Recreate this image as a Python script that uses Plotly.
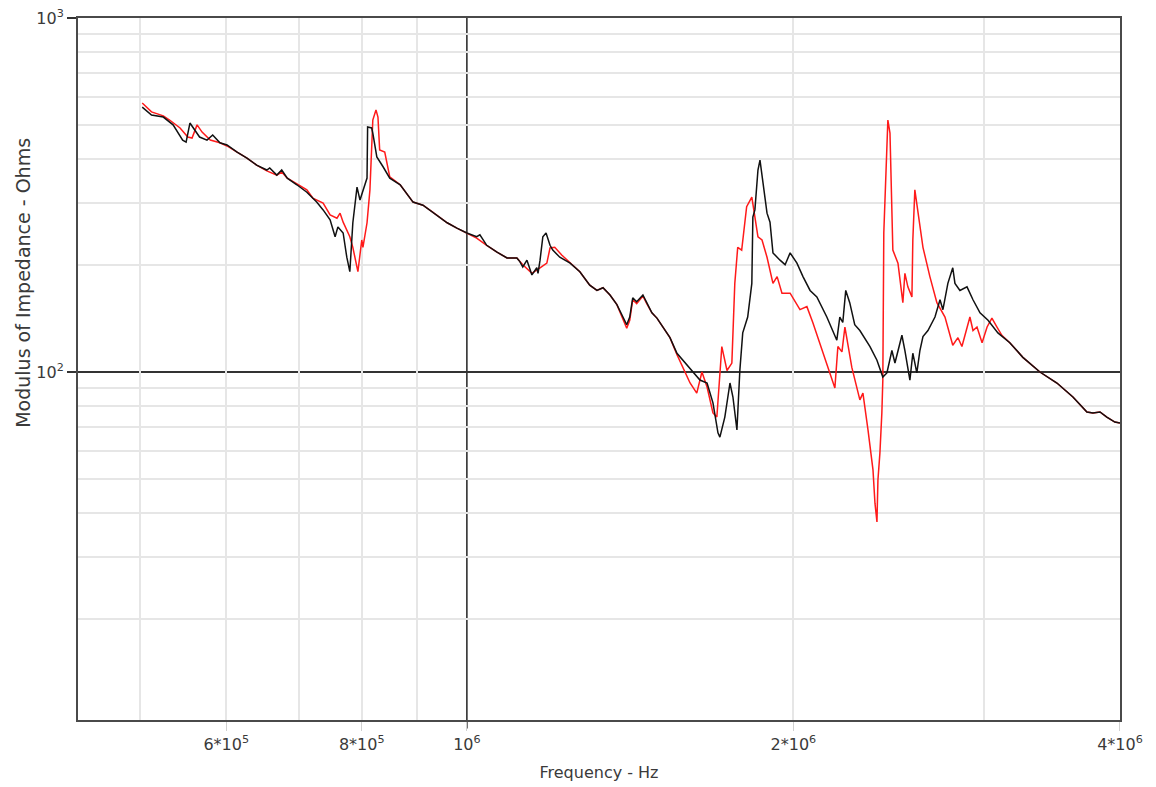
import plotly.graph_objects as go

# ---- Data ----
freq_black = [5.02e5, 5.12e5, 5.25e5, 5.36e5, 5.47e5, 5.51e5, 5.555e5, 5.59e5, 5.67e5, 5.76e5,
              5.83e5, 5.92e5, 6.01e5, 6.14e5, 6.27e5, 6.40e5, 6.54e5, 6.58e5, 6.68e5, 6.75e5,
              6.83e5, 6.97e5, 7.12e5, 7.27e5, 7.37e5, 7.48e5, 7.56e5, 7.605e5, 7.69e5, 7.75e5,
              7.80e5, 7.85e5, 7.92e5, 7.97e5, 8.02e5, 8.09e5, 8.10e5, 8.17e5, 8.19e5, 8.26e5,
              8.37e5, 8.49e5, 8.68e5, 8.92e5, 9.11e5, 9.30e5, 9.59e5, 9.79e5, 1.00e6, 1.021e6,
              1.028e6, 1.043e6, 1.066e6, 1.089e6, 1.112e6, 1.119e6, 1.126e6, 1.136e6, 1.148e6, 1.160e6,
              1.163e6, 1.168e6, 1.175e6, 1.183e6, 1.193e6, 1.200e6, 1.218e6, 1.245e6, 1.271e6, 1.298e6,
              1.318e6, 1.335e6, 1.355e6, 1.375e6, 1.392e6, 1.404e6, 1.413e6, 1.422e6, 1.434e6, 1.453e6,
              1.465e6, 1.481e6, 1.497e6, 1.516e6, 1.539e6, 1.562e6, 1.582e6, 1.595e6, 1.616e6, 1.640e6,
              1.665e6, 1.686e6, 1.704e6, 1.711e6, 1.729e6, 1.748e6, 1.759e6, 1.774e6, 1.785e6, 1.796e6,
              1.815e6, 1.831e6, 1.835e6, 1.843e6, 1.855e6, 1.863e6, 1.875e6, 1.891e6, 1.903e6, 1.915e6,
              1.944e6, 1.965e6, 1.986e6, 2.015e6, 2.041e6, 2.072e6, 2.102e6, 2.147e6, 2.193e6, 2.207e6,
              2.221e6, 2.235e6, 2.254e6, 2.278e6, 2.303e6, 2.353e6, 2.388e6, 2.418e6, 2.439e6, 2.465e6,
              2.481e6, 2.518e6, 2.534e6, 2.561e6, 2.577e6, 2.599e6, 2.616e6, 2.633e6, 2.661e6, 2.701e6,
              2.730e6, 2.747e6, 2.776e6, 2.805e6, 2.818e6, 2.848e6, 2.891e6, 2.928e6, 2.972e6, 3.023e6,
              3.087e6, 3.166e6, 3.255e6, 3.375e6, 3.499e6, 3.620e6, 3.729e6, 3.777e6, 3.834e6, 3.890e6,
              3.957e6, 4.000e6]
z_black = [560, 532, 525, 499, 452, 446, 505, 492, 461, 452,
           467, 444, 438, 418, 402, 384, 372, 377, 360, 372,
           353, 338, 322, 302, 287, 269, 241, 257, 247, 211,
           192, 264, 333, 306, 327, 353, 492, 489, 473, 405,
           380, 353, 338, 302, 296, 283, 264, 255, 247, 241,
           244, 228, 218, 210, 210, 205, 198, 207, 188, 197,
           190, 207, 241, 247, 228, 221, 211, 203, 192, 176,
           170, 173, 165, 155, 143, 136, 143, 162, 158, 165,
           157, 147, 142, 134, 125, 113, 108, 105, 100, 94.9,
           93.1, 81.8, 67.3, 65.5, 74.6, 93.1, 85.0, 68.6, 101, 129,
           143, 178, 274, 287, 372, 397, 342, 281, 265, 217,
           207, 201, 217, 203, 186, 170, 163, 143, 123, 143,
           138, 170, 157, 136, 131, 118, 108, 96.8, 99.4, 115,
           106, 127, 115, 94.9, 113, 99.4, 115, 126, 131, 143,
           160, 150, 178, 197, 178, 170, 174, 160, 147, 140,
           129, 121, 110, 100, 93.1, 85.0, 77.1, 76.6, 77.1, 74.6,
           72.2, 71.8]

freq_red = [5.02e5, 5.12e5, 5.25e5, 5.32e5, 5.44e5, 5.53e5, 5.58e5, 5.64e5, 5.70e5, 5.80e5,
            5.92e5, 6.01e5, 6.14e5, 6.27e5, 6.40e5, 6.54e5, 6.68e5, 6.75e5, 6.83e5, 6.97e5,
            7.12e5, 7.21e5, 7.37e5, 7.48e5, 7.59e5, 7.64e5, 7.69e5, 7.80e5, 7.85e5, 7.935e5,
            8.00e5, 8.02e5, 8.09e5, 8.14e5, 8.19e5, 8.245e5, 8.28e5, 8.31e5, 8.40e5, 8.49e5,
            8.68e5, 8.92e5, 9.11e5, 9.30e5, 9.59e5, 9.79e5, 1.00e6, 1.021e6, 1.043e6, 1.066e6,
            1.089e6, 1.112e6, 1.126e6, 1.148e6, 1.168e6, 1.185e6, 1.193e6, 1.205e6, 1.223e6, 1.245e6,
            1.271e6, 1.298e6, 1.318e6, 1.335e6, 1.355e6, 1.375e6, 1.392e6, 1.404e6, 1.413e6, 1.422e6,
            1.434e6, 1.453e6, 1.465e6, 1.481e6, 1.497e6, 1.516e6, 1.539e6, 1.562e6, 1.582e6, 1.606e6,
            1.629e6, 1.647e6, 1.665e6, 1.686e6, 1.700e6, 1.718e6, 1.737e6, 1.755e6, 1.766e6, 1.777e6,
            1.792e6, 1.811e6, 1.831e6, 1.843e6, 1.855e6, 1.871e6, 1.891e6, 1.915e6, 1.932e6, 1.952e6,
            1.986e6, 2.028e6, 2.058e6, 2.084e6, 2.115e6, 2.151e6, 2.184e6, 2.198e6, 2.217e6, 2.231e6,
            2.264e6, 2.303e6, 2.318e6, 2.343e6, 2.368e6, 2.378e6, 2.388e6, 2.393e6, 2.403e6, 2.413e6,
            2.418e6, 2.423e6, 2.439e6, 2.444e6, 2.455e6, 2.465e6, 2.470e6, 2.497e6, 2.523e6, 2.534e6,
            2.550e6, 2.572e6, 2.577e6, 2.588e6, 2.605e6, 2.633e6, 2.672e6, 2.712e6, 2.759e6, 2.805e6,
            2.836e6, 2.860e6, 2.909e6, 2.928e6, 2.953e6, 2.985e6, 3.017e6, 3.048e6, 3.081e6, 3.113e6,
            3.166e6, 3.255e6, 3.375e6, 3.499e6, 3.620e6, 3.729e6, 3.777e6, 3.834e6, 3.890e6, 3.957e6,
            4.000e6]
z_red = [575, 543, 529, 515, 489, 461, 458, 499, 476, 452,
         444, 435, 418, 402, 384, 370, 360, 367, 353, 340,
         327, 310, 300, 278, 272, 281, 265, 241, 225, 192,
         236, 225, 264, 327, 515, 550, 525, 424, 418, 356,
         338, 302, 296, 283, 264, 255, 247, 239, 228, 218,
         210, 210, 201, 190, 197, 203, 224, 225, 214, 203,
         192, 176, 170, 173, 165, 155, 142, 133, 140, 160,
         156, 164, 156, 147, 142, 134, 125, 112, 103, 93.1,
         87.2, 100, 90.7, 76.6, 74.6, 118, 101, 106, 178, 225,
         221, 293, 312, 274, 241, 236, 211, 178, 186, 167,
         167, 150, 153, 138, 121, 103, 90.1, 118, 114, 134,
         103, 83.4, 87.2, 68.6, 52.9, 42.6, 37.7, 49.5, 59.0, 76.6,
         94.9, 247, 473, 515, 473, 306, 221, 203, 157, 190,
         174, 163, 236, 327, 281, 225, 186, 157, 143, 119,
         125, 118, 143, 131, 134, 121, 134, 142, 134, 127,
         121, 110, 100, 93.1, 85.0, 77.1, 76.6, 77.1, 74.6, 72.2,
         71.8]

x_tick_vals = [6e5, 8e5, 1e6, 2e6, 4e6]
x_tick_text = ["6*10<sup>5</sup>", "8*10<sup>5</sup>", "10<sup>6</sup>", "2*10<sup>6</sup>", "4*10<sup>6</sup>"]
x_minor_grid = [5e5, 6e5, 7e5, 8e5, 9e5, 2e6, 3e6]
y_tick_vals = [100, 1000]
y_tick_text = ["10<sup>2</sup>", "10<sup>3</sup>"]
y_minor_grid = [20, 30, 40, 50, 60, 70, 80, 90, 200, 300, 400, 500, 600, 700, 800, 900]
ref_line_x = [1e6]
ref_line_y = [100]

x_range = [5.6415, 6.6021]   # log10 of ~4.38e5 .. 4e6
y_range = [1.017, 3.0]       # log10 of ~10.4 .. 1000

FONT = "DejaVu Sans, Verdana, sans-serif"
TXT = "#3a3a3a"
GRID = "#e6e6e6"

fig = go.Figure()
fig.add_trace(go.Scatter(x=freq_red, y=z_red, mode="lines",
                         line=dict(color="#ff1a1a", width=1.5), showlegend=False))
fig.add_trace(go.Scatter(x=freq_black, y=z_black, mode="lines",
                         line=dict(color="#111111", width=1.5), showlegend=False))

for xv in ref_line_x:
    fig.add_shape(type="line", xref="x", yref="paper", x0=xv, x1=xv, y0=-0.012, y1=1,
                  line=dict(color="#222222", width=1.5), layer="below")
for yv in ref_line_y:
    fig.add_shape(type="line", xref="paper", yref="y", x0=-0.009, x1=1, y0=yv, y1=yv,
                  line=dict(color="#333333", width=2), layer="below")

fig.add_annotation(text="Modulus of Impedance - Ohms", textangle=-90,
                   xref="paper", yref="paper", x=-0.053, y=0.6225,
                   xanchor="center", yanchor="middle", showarrow=False,
                   font=dict(family=FONT, size=19, color=TXT))

fig.update_layout(
    width=1156, height=787,
    margin=dict(l=70, r=44, t=10, b=75),
    paper_bgcolor="white", plot_bgcolor="white",
    font=dict(family=FONT, size=14, color=TXT),
    xaxis=dict(type="log", range=x_range, tickmode="array", automargin=False,
               ticklabeloverflow="allow",
               tickvals=x_tick_vals, ticktext=x_tick_text,
               ticks="outside", ticklen=9, tickcolor="#d0d0d0", tickwidth=1,
               showgrid=False, showline=True, linecolor="#4a4a4a", linewidth=2, mirror=True,
               tickfont=dict(family=FONT, size=16, color=TXT),
               title=dict(text="Frequency - Hz", font=dict(family=FONT, size=16, color=TXT), standoff=14),
               minor=dict(tickvals=x_minor_grid, showgrid=True, gridcolor=GRID, gridwidth=2, ticks=""),
               zeroline=False),
    yaxis=dict(type="log", range=y_range, tickmode="array", automargin=False,
               ticklabeloverflow="allow",
               tickvals=y_tick_vals, ticktext=y_tick_text,
               ticks="outside", ticklen=9, tickcolor="#333333", tickwidth=1.5,
               showgrid=False, showline=True, linecolor="#4a4a4a", linewidth=2, mirror=True,
               tickfont=dict(family=FONT, size=16, color=TXT),
               minor=dict(tickvals=y_minor_grid, showgrid=True, gridcolor=GRID, gridwidth=2, ticks=""),
               zeroline=False),
)

fig.write_html("out.html")
